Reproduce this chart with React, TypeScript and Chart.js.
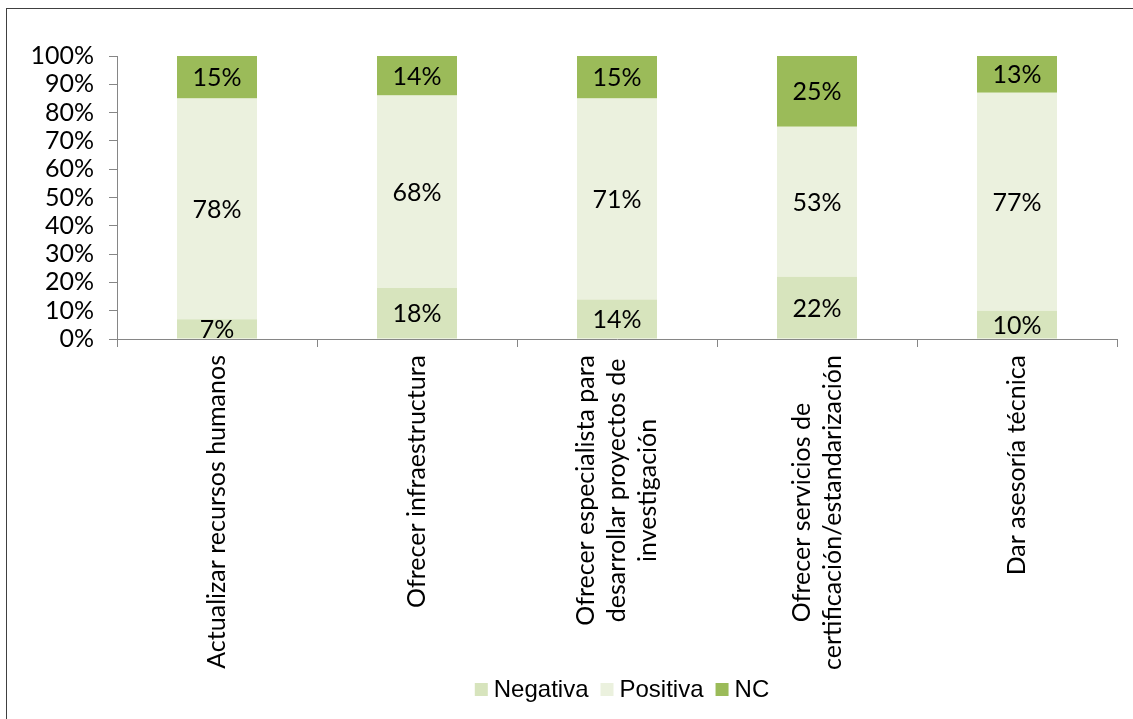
import React, { useEffect, useRef } from "react";
import { Chart, registerables } from "chart.js";

Chart.register(...registerables);

const categories: string[][] = [
  ["Actualizar recursos humanos"],
  ["Ofrecer infraestructura"],
  ["Ofrecer especialista para", "desarrollar proyectos de", "investigación"],
  ["Ofrecer servicios de", "certificación/estandarización"],
  ["Dar asesoría técnica"],
];
const negativa = [7, 18, 14, 22, 10];
const positiva = [78, 68, 71, 53, 77];
const nc = [15, 14, 15, 25, 13];
const yTicks = [0, 10, 20, 30, 40, 50, 60, 70, 80, 90, 100];
const seriesNames = ["Negativa", "Positiva", "NC"];
const seriesColors = ["#D7E4BD", "#EBF1DE", "#9BBB59"];

const FONT = "Lato";
const FS = 25;
const LEGEND_FONT = "Liberation Sans";
const LEGEND_FS = 24;

const labelPlugin = {
  id: "customLabels",
  afterDatasetsDraw(chart: any) {
    const ctx = chart.ctx;
    ctx.save();
    ctx.font = `${FS}px ${FONT}`;
    ctx.fillStyle = "#000";
    ctx.textAlign = "center";
    ctx.textBaseline = "middle";
    chart.data.datasets.forEach((ds: any, di: number) => {
      const meta = chart.getDatasetMeta(di);
      meta.data.forEach((bar: any, i: number) => {
        const v = ds.data[i];
        const cy = (bar.y + bar.base) / 2;
        ctx.fillText(v + "%", bar.x, cy + 1);
      });
    });
    ctx.restore();
  },
  afterDraw(chart: any) {
    const ctx = chart.ctx;
    const xs = chart.scales.x;
    ctx.save();
    ctx.font = `${FS}px ${FONT}`;
    ctx.fillStyle = "#000";
    ctx.textAlign = "center";
    ctx.textBaseline = "middle";
    const lh = 31;
    categories.forEach((lines, i) => {
      const x = xs.getPixelForValue(i);
      const top = xs.top + 16;
      let maxW = 0;
      lines.forEach((l) => {
        maxW = Math.max(maxW, ctx.measureText(l).width);
      });
      ctx.save();
      ctx.translate(x, top + maxW / 2);
      ctx.rotate(-Math.PI / 2);
      lines.forEach((l, j) => {
        ctx.fillText(l, 0, (j - (lines.length - 1) / 2) * lh);
      });
      ctx.restore();
    });

    // legend
    ctx.font = `${LEGEND_FS}px ${LEGEND_FONT}`;
    ctx.textAlign = "left";
    ctx.textBaseline = "middle";
    const box = 13;
    const gapBT = 6;
    const gapItems = 12;
    const widths = seriesNames.map((n) => box + gapBT + ctx.measureText(n).width);
    const total = widths.reduce((a, b) => a + b, 0) + gapItems * (widths.length - 1);
    const ca = chart.chartArea;
    let x = (ca.left + ca.right) / 2 + 5 - total / 2;
    const cy = 689;
    seriesNames.forEach((n, i) => {
      ctx.fillStyle = seriesColors[i];
      ctx.fillRect(x, cy - 6, box, box);
      ctx.fillStyle = "#000";
      ctx.fillText(n, x + box + gapBT, cy + 1);
      x += widths[i] + gapItems;
    });
    ctx.restore();
  },
};

export default function App() {
  const ref = useRef<HTMLCanvasElement>(null);
  useEffect(() => {
    if (!ref.current) return;
    const chart = new Chart(ref.current, {
      type: "bar",
      data: {
        labels: categories.map((c) => c.join(" ")),
        datasets: [
          { label: seriesNames[0], data: negativa, backgroundColor: seriesColors[0], borderWidth: 0 },
          { label: seriesNames[1], data: positiva, backgroundColor: seriesColors[1], borderWidth: 0 },
          { label: seriesNames[2], data: nc, backgroundColor: seriesColors[2], borderWidth: 0 },
        ],
      },
      options: {
        responsive: false,
        animation: false,
        events: [],
        layout: { padding: { left: 0, top: 56, right: 16, bottom: 52 } },
        datasets: { bar: { categoryPercentage: 1, barPercentage: 0.4 } },
        plugins: {
          tooltip: { enabled: false },
          legend: { display: false },
        },
        scales: {
          x: {
            stacked: true,
            grid: {
              display: true,
              drawOnChartArea: false,
              drawTicks: true,
              tickLength: 8,
              offset: true,
              color: "#868686",
            },
            border: { color: "#868686", width: 1 },
            ticks: { display: false },
            afterFit: (s: any) => {
              s.height = 328;
            },
          },
          y: {
            stacked: true,
            min: 0,
            max: 100,
            afterBuildTicks: (s: any) => {
              s.ticks = yTicks.map((v) => ({ value: v }));
            },
            grid: {
              display: true,
              drawOnChartArea: false,
              drawTicks: true,
              tickLength: 8,
              color: "#868686",
            },
            border: { color: "#868686", width: 1 },
            ticks: {
              autoSkip: false,
              padding: 15,
              color: "#000",
              font: { family: FONT, size: FS },
              callback: (v: any) => v + "%",
            },
            afterFit: (s: any) => {
              s.width = 117;
            },
          },
        },
      },
      plugins: [labelPlugin],
    });
    return () => chart.destroy();
  }, []);
  return (
    <div style={{ position: "fixed", left: 0, top: 0, width: 1133, height: 719, background: "#fff" }}>
      <canvas ref={ref} width={1133} height={719} style={{ position: "absolute", left: 0, top: 0 }} />
      <div
        style={{
          position: "absolute",
          left: 6,
          top: 8,
          width: 1140,
          height: 720,
          border: "1px solid #404040",
          pointerEvents: "none",
        }}
      />
    </div>
  );
}
